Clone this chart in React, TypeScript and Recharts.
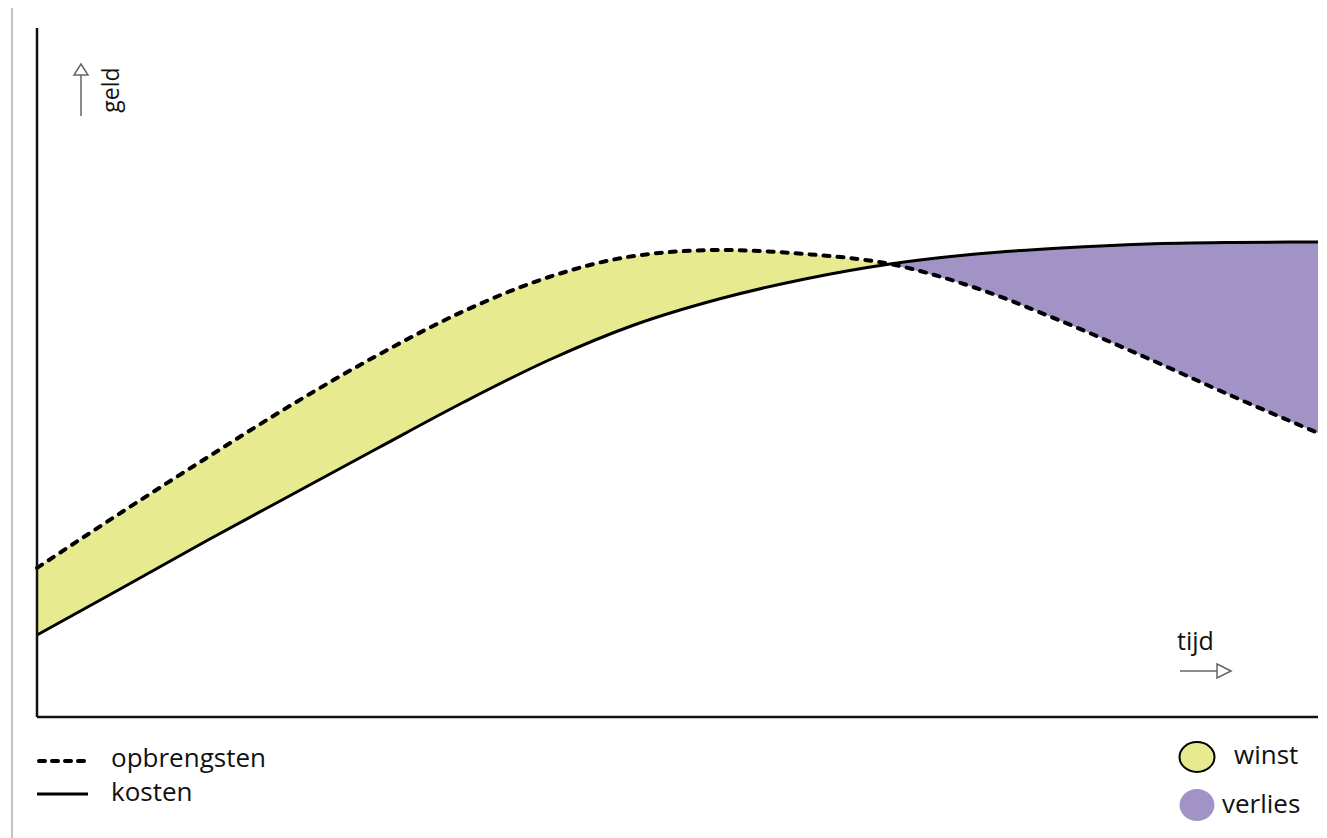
import { Area, ComposedChart, Line, XAxis, YAxis } from 'recharts'

// positions along the time axis and the money values
const tijd = [0, 85, 171, 256, 341, 427, 512, 597, 682, 768, 853, 939, 1024, 1110, 1195, 1281]
const opbrengsten = [149, 205, 260, 313, 362, 406, 440, 461, 467, 463, 453, 429, 396, 359, 321, 284]
const kosten = [82, 129, 177, 223, 269, 315, 357, 392, 418, 438, 453, 463, 469, 473, 474.5, 475]

const YELLOW = '#e7ea8e'
const PURPLE = '#a193c5'
const FONT = '"Open Sans", sans-serif'

const data = tijd.map((t, i) => {
  const o = opbrengsten[i]
  const k = kosten[i]
  return {
    tijd: t,
    opbrengsten: o,
    kosten: k,
    winst: o >= k ? [k, o] : null,
    verlies: k >= o ? [o, k] : null,
  }
})

function Overlay() {
  return (
    <svg
      width={1327}
      height={838}
      style={{ position: 'absolute', left: 0, top: 0, pointerEvents: 'none' }}
    >
      {/* page edge */}
      <line x1={12} y1={8} x2={12} y2={838} stroke="#9a9a9a" strokeWidth={1.2} />

      {/* geld arrow */}
      <line x1={81} y1={75} x2={81} y2={116} stroke="#666" strokeWidth={1.5} />
      <polygon points="81,64 74,75 88,75" fill="#fff" stroke="#666" strokeWidth={1.5} />
      <text
        x={0}
        y={0}
        transform="translate(119,90) rotate(-90)"
        textAnchor="middle"
        fontFamily={FONT}
        fontSize={23}
        fill="#111"
      >
        geld
      </text>

      {/* tijd arrow */}
      <text x={1177} y={650} fontFamily={FONT} fontSize={25} fill="#111">tijd</text>
      <line x1={1180} y1={671} x2={1217} y2={671} stroke="#666" strokeWidth={1.5} />
      <polygon points="1231,671 1217,664 1217,678" fill="#fff" stroke="#666" strokeWidth={1.5} />

      {/* legend left */}
      <line x1={39} y1={761} x2={86} y2={761} stroke="#000" strokeWidth={4} strokeDasharray="6 7" strokeLinecap="round" />
      <text x={111} y={767} fontFamily={FONT} fontSize={26} fill="#111">opbrengsten</text>
      <line x1={37} y1={794} x2={88} y2={794} stroke="#000" strokeWidth={3} />
      <text x={111} y={801} fontFamily={FONT} fontSize={26} fill="#111">kosten</text>

      {/* legend right */}
      <ellipse cx={1197} cy={757} rx={17.5} ry={15} fill={YELLOW} stroke="#000" strokeWidth={2} />
      <text x={1234} y={764} fontFamily={FONT} fontSize={26} fill="#111">winst</text>
      <ellipse cx={1197} cy={805} rx={17.5} ry={16} fill={PURPLE} />
      <text x={1222} y={813} fontFamily={FONT} fontSize={26} fill="#111">verlies</text>
    </svg>
  )
}

export default function App() {
  return (
    <div style={{ position: 'absolute', left: 0, top: 0, width: 1327, height: 838, background: '#fff' }}>
      <ComposedChart
        width={1327}
        height={838}
        data={data}
        margin={{ top: 28, right: 9, bottom: 0, left: 0 }}
      >
        <XAxis
          dataKey="tijd"
          type="number"
          domain={[0, 1281]}
          height={121}
          tick={false}
          tickLine={false}
          axisLine={{ stroke: '#111', strokeWidth: 2.5 }}
        />
        <YAxis
          type="number"
          domain={[0, 689]}
          width={37}
          tick={false}
          tickLine={false}
          axisLine={{ stroke: '#111', strokeWidth: 2.5 }}
        />
        <Area
          type="monotone"
          dataKey={(d: any) => d.winst}
          stroke="none"
          fill={YELLOW}
          fillOpacity={1}
          isAnimationActive={false}
          activeDot={false}
        />
        <Area
          type="monotone"
          dataKey={(d: any) => d.verlies}
          stroke="none"
          fill={PURPLE}
          fillOpacity={1}
          isAnimationActive={false}
          activeDot={false}
        />
        <Line
          type="monotone"
          dataKey="kosten"
          stroke="#000"
          strokeWidth={3}
          dot={false}
          activeDot={false}
          isAnimationActive={false}
        />
        <Line
          type="monotone"
          dataKey="opbrengsten"
          stroke="#000"
          strokeWidth={4}
          strokeDasharray="6 8"
          strokeLinecap="round"
          dot={false}
          activeDot={false}
          isAnimationActive={false}
        />
      </ComposedChart>
      <Overlay />
    </div>
  )
}
